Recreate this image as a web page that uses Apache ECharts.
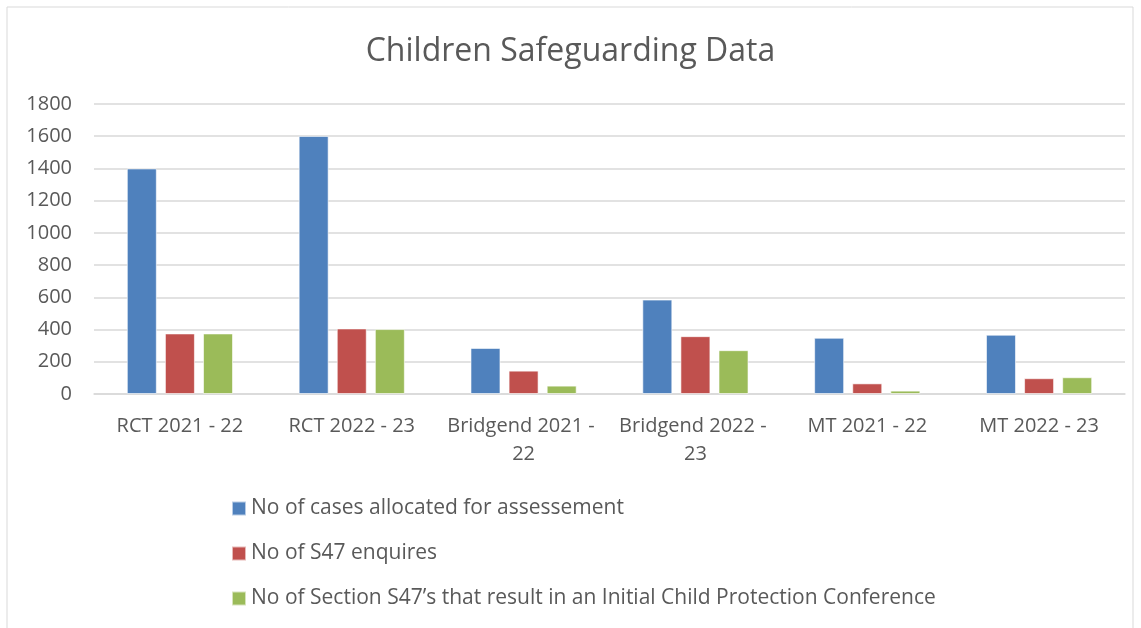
<!DOCTYPE html>
<html><head><meta charset="utf-8">
<script src="https://cdn.jsdelivr.net/npm/echarts@6/dist/echarts.min.js"></script>
<style>html,body{margin:0;padding:0;background:#fff;}#c{width:1141px;height:628px;}</style>
</head><body><div id="c"></div>
<script>
const categories = ['RCT 2021 - 22', 'RCT 2022 - 23', 'Bridgend 2021 - 22', 'Bridgend 2022 - 23', 'MT 2021 - 22', 'MT 2022 - 23'];
const seriesNames = ['No of cases allocated for assessement', 'No of S47 enquires', 'No of Section S47\u2019s that result in an Initial Child Protection Conference'];
const casesAllocated = [1400, 1602, 286, 586, 349, 368];
const s47Enquiries = [376, 407, 145, 359, 66, 98];
const icpcResults = [376, 403, 52, 272, 21, 104];
const yTicks = [0, 200, 400, 600, 800, 1000, 1200, 1400, 1600, 1800];

const font = '"Open Sans", sans-serif';
const chart = echarts.init(document.getElementById('c'), null, {renderer: 'canvas'});
const colors = ['#4f81bd', '#c0504d', '#9bbb59'];
const data = [casesAllocated, s47Enquiries, icpcResults];
chart.setOption({
  animation: false,
  backgroundColor: '#ffffff',
  graphic: [{
    type: 'rect', shape: {x: 7, y: 7, width: 1126, height: 640},
    style: {fill: 'none', stroke: '#d9d9d9', lineWidth: 1}, silent: true, z: -10
  }],
  title: {
    text: 'Children Safeguarding Data', left: 'center', top: 31,
    textStyle: {fontFamily: font, fontSize: 32, fontWeight: 'normal', color: '#595959'}
  },
  legend: {
    orient: 'vertical', left: 226, top: 493, itemGap: 24,
    itemWidth: 14, itemHeight: 14, icon: 'rect', itemTextGap: 6,
    textStyle: {fontFamily: font, fontSize: 21, color: '#595959'},
    data: seriesNames
  },
  grid: {left: 94, right: 16, top: 104, bottom: 234, containLabel: false},
  xAxis: {
    type: 'category', data: categories,
    axisLine: {show: true, lineStyle: {color: '#d9d9d9', width: 1.5}},
    axisTick: {show: false},
    axisLabel: {fontFamily: font, fontSize: 20, color: '#595959', margin: 18, lineHeight: 28,
      width: 165, overflow: 'break', interval: 0}
  },
  yAxis: {
    type: 'value', min: yTicks[0], max: yTicks[yTicks.length - 1], interval: 200,
    axisLine: {show: false}, axisTick: {show: false},
    axisLabel: {fontFamily: font, fontSize: 20, color: '#595959', margin: 22,
      formatter: v => String(v)},
    splitLine: {lineStyle: {color: '#d9d9d9', width: 1.5}}
  },
  series: data.map((d, i) => ({
    name: seriesNames[i], type: 'bar', data: d,
    barWidth: 30, barGap: '27%', barCategoryGap: '38%',
    itemStyle: {color: colors[i], borderColor: 'rgba(255,255,255,0.6)', borderWidth: 1}
  }))
});
</script></body></html>
